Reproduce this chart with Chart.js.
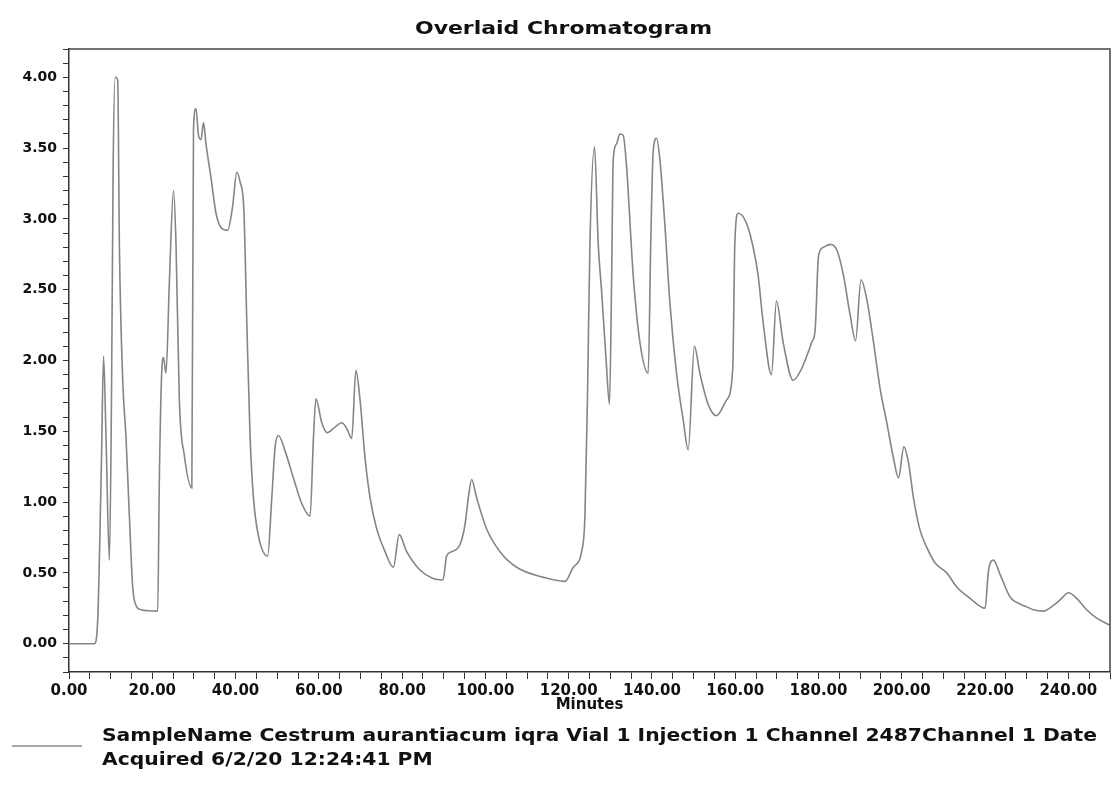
<!DOCTYPE html>
<html><head><meta charset="utf-8">
<script src="https://cdn.jsdelivr.net/npm/chart.js@4.4.1/dist/chart.umd.min.js"></script>
<style>html,body{margin:0;padding:0;background:#fff;}#wrap{width:1120px;height:788px;}</style>
</head><body><div id="wrap"><canvas id="c" width="1120" height="788"></canvas></div>
<script>
const titleText = 'Overlaid Chromatogram';
const xAxisTitle = 'Minutes';
const legendLines = ['SampleName Cestrum aurantiacum iqra Vial 1 Injection 1 Channel 2487Channel 1 Date', 'Acquired 6/2/20 12:24:41 PM'];

const timeMin = [0,6.1,6.9,7.3,7.8,8.3,8.9,9.7,10.2,10.6,11.1,11.7,12.1,12.9,13.7,14.5,15.3,16.1,17.3,21.3,
21.7,22.3,22.7,23.3,24.1,25.1,25.7,26.5,27.7,29.5,29.9,30.5,31.1,31.7,32.3,32.9,34.1,35.3,36.5,38.1,
39.3,40.3,41.1,42.0,42.7,43.5,44.3,45.5,47.7,48.7,49.5,50.3,51.9,53.9,55.9,57.9,58.7,59.3,60.7,62.0,
63.9,65.5,66.7,67.9,68.9,69.9,71.1,72.3,73.9,75.9,77.9,79.3,81.1,84.3,87.4,89.8,90.7,91.9,93.9,95.1,
95.9,96.7,97.9,100.3,103.5,107.5,113.8,119.1,121.1,123.1,123.9,124.5,125.1,126.2,127.1,127.9,129.0,129.8,130.3,130.7,
131.5,132.3,133.1,133.9,135.5,137.1,139.1,139.7,140.3,141.1,141.9,143.1,144.3,145.9,147.5,148.7,150.2,151.5,153.5,155.5,
157.9,159.4,159.9,160.7,162.7,164.3,165.5,166.7,168.7,169.9,171.5,173.9,175.9,178.4,179.2,180.0,181.2,182.8,184.4,186.0,
187.6,188.9,190.2,191.6,193.2,194.8,196.4,198.0,199.2,200.5,201.6,202.8,204.4,206.0,208.0,210.8,213.2,216.4,220.0,220.8,
222.0,223.6,226.0,228.4,230.0,231.6,234.0,236.4,238.4,240.0,242.0,244.4,246.8,250];

const absorbance = [0,0,0.17,0.6,1.3,2.03,1.45,0.59,1.72,3.36,4.0,3.98,2.82,1.86,1.45,0.9,0.4,0.27,0.24,0.23,
1.17,1.94,2.02,1.91,2.55,3.2,2.82,1.72,1.33,1.10,3.64,3.78,3.59,3.56,3.68,3.53,3.29,3.04,2.94,2.92,
3.09,3.33,3.26,3.06,2.27,1.45,1.03,0.76,0.62,1.03,1.39,1.47,1.36,1.17,0.99,0.9,1.45,1.73,1.56,1.49,
1.53,1.56,1.52,1.45,1.93,1.72,1.31,1.03,0.81,0.65,0.54,0.77,0.65,0.52,0.46,0.45,0.62,0.65,0.70,0.84,
1.03,1.16,1.03,0.81,0.65,0.54,0.47,0.44,0.54,0.65,0.9,1.72,2.82,3.51,2.82,2.49,2.0,1.69,2.54,3.42,
3.53,3.6,3.59,3.37,2.6,2.13,1.91,2.82,3.48,3.57,3.42,2.96,2.41,1.91,1.58,1.37,2.10,1.91,1.69,1.61,
1.72,1.94,2.82,3.04,2.97,2.8,2.6,2.27,1.90,2.42,2.13,1.86,1.94,2.13,2.22,2.74,2.8,2.82,2.78,2.6,
2.32,2.14,2.57,2.43,2.13,1.8,1.56,1.31,1.17,1.39,1.28,1.03,0.8,0.68,0.57,0.5,0.4,0.32,0.25,0.51,
0.59,0.49,0.33,0.28,0.26,0.24,0.23,0.27,0.32,0.36,0.32,0.24,0.18,0.13];

const xMajorTicks = [0,20,40,60,80,100,120,140,160,180,200,220,240];
const yMajorTicks = [0,0.5,1,1.5,2,2.5,3,3.5,4];
const xRange = [0, 250];
const yRange = [-0.2, 4.2];
const xMinorStep = 5;
const yMinorStep = 0.1;

const xTicks = [];
for (let i = 0; i <= Math.round((xRange[1]-xRange[0])/xMinorStep); i++) xTicks.push(xRange[0] + i*xMinorStep);
const yTicks = [];
for (let i = 0; i <= Math.round((yRange[1]-yRange[0])/yMinorStep); i++) yTicks.push(Math.round((yRange[0] + i*yMinorStep)*10)/10);

const isMajor = (list, v) => list.some(m => Math.abs(m - v) < 1e-6);

function drawStretched(ctx, text, x, y, scale, align) {
  ctx.save();
  ctx.translate(x, y);
  ctx.scale(scale, 1);
  ctx.textAlign = align;
  ctx.fillText(text, 0, 0);
  ctx.restore();
}

const decorPlugin = {
  id: 'decor',
  beforeDraw(chart) {
    const ctx = chart.ctx;
    ctx.save();
    ctx.fillStyle = '#ffffff';
    ctx.fillRect(0, 0, chart.width, chart.height);
    ctx.restore();
  },
  afterDraw(chart) {
    const ctx = chart.ctx;
    const a = chart.chartArea;
    ctx.save();
    ctx.strokeStyle = '#444';
    ctx.lineWidth = 1.5;
    ctx.beginPath();
    ctx.moveTo(a.left, a.top);
    ctx.lineTo(a.right, a.top);
    ctx.lineTo(a.right, a.bottom);
    ctx.stroke();
    ctx.fillStyle = '#111';
    ctx.textBaseline = 'alphabetic';
    ctx.font = 'bold 18px "DejaVu Sans"';
    let w = ctx.measureText(titleText).width;
    drawStretched(ctx, titleText, 563.5, 33.5, 297 / w, 'center');
    ctx.strokeStyle = '#a8a8a8';
    ctx.lineWidth = 2;
    ctx.beginPath();
    ctx.moveTo(12, 746);
    ctx.lineTo(82, 746);
    ctx.stroke();
    ctx.font = 'bold 18px "DejaVu Sans"';
    w = ctx.measureText(legendLines[0]).width;
    const s = 995 / w;
    drawStretched(ctx, legendLines[0], 102, 741, s, 'left');
    drawStretched(ctx, legendLines[1], 102, 765, s, 'left');
    ctx.restore();
  }
};

new Chart(document.getElementById('c'), {
  type: 'line',
  data: {
    datasets: [{
      label: 'SampleName Cestrum aurantiacum iqra',
      data: timeMin.map((t, i) => ({x: t, y: absorbance[i]})),
      borderColor: '#858585',
      borderWidth: 1.6,
      pointRadius: 0,
      fill: false,
      cubicInterpolationMode: 'monotone'
    }]
  },
  options: {
    responsive: false,
    animation: false,
    devicePixelRatio: 1,
    layout: {padding: {left: 0, top: 49, right: 10, bottom: 74}},
    plugins: {legend: {display: false}, title: {display: false}, tooltip: {enabled: false}},
    scales: {
      x: {
        type: 'linear', min: xRange[0], max: xRange[1],
        afterBuildTicks: ax => { ax.ticks = xTicks.map(v => ({value: v})); },
        afterFit: ax => { ax.height = 42; },
        grid: {drawOnChartArea: false, drawTicks: true, tickLength: 7, color: '#333', lineWidth: 1},
        border: {display: true, color: '#333', width: 1.5},
        ticks: {autoSkip: false, maxRotation: 0, minRotation: 0, padding: 3, color: '#111',
          font: {family: 'DejaVu Sans', weight: 'bold', size: 15},
          callback: v => isMajor(xMajorTicks, v) ? v.toFixed(2) : ''},
        title: {display: true, text: xAxisTitle, padding: 0, color: '#111', font: {family: 'DejaVu Sans', weight: 'bold', size: 15}}
      },
      y: {
        type: 'linear', min: yRange[0], max: yRange[1], position: 'left',
        afterBuildTicks: ax => { ax.ticks = yTicks.map(v => ({value: v})); },
        afterFit: ax => { ax.width = 69; },
        grid: {drawOnChartArea: false, drawTicks: true, tickLength: 6, color: '#333', lineWidth: 1},
        border: {display: true, color: '#333', width: 1.5},
        ticks: {autoSkip: false, padding: 6, color: '#111',
          font: {family: 'DejaVu Sans', weight: 'bold', size: 14},
          callback: v => isMajor(yMajorTicks, v) ? v.toFixed(2) : ''}
      }
    }
  },
  plugins: [decorPlugin]
});
</script>
</body></html>
